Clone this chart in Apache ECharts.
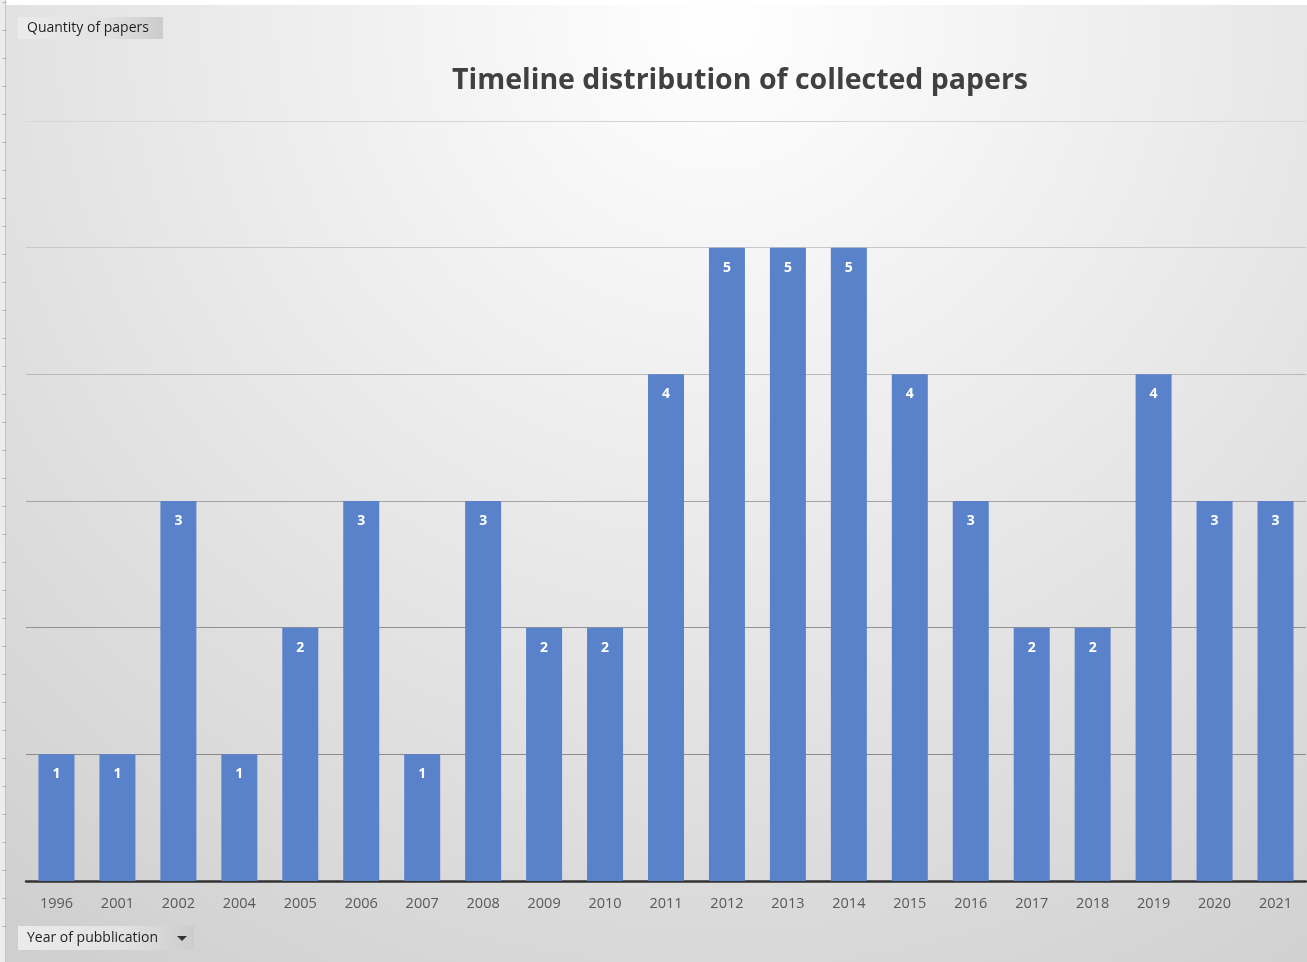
<!DOCTYPE html>
<html>
<head>
<meta charset="utf-8">
<style>
  html, body { margin: 0; padding: 0; background: #ffffff; }
  #chart { width: 1307px; height: 962px; }
</style>
<script src="https://cdn.jsdelivr.net/npm/echarts@6/dist/echarts.min.js"></script>
</head>
<body>
<div id="chart"></div>
<script>
// Publication years and number of papers collected for each
const years = ['1996', '2001', '2002', '2004', '2005', '2006', '2007', '2008', '2009', '2010',
               '2011', '2012', '2013', '2014', '2015', '2016', '2017', '2018', '2019', '2020', '2021'];
const paperCounts = [1, 1, 3, 1, 2, 3, 1, 3, 2, 2, 4, 5, 5, 5, 4, 3, 2, 2, 4, 3, 3];
const valueTicks = [0, 1, 2, 3, 4, 5, 6];

const chart = echarts.init(document.getElementById('chart'), null, { renderer: 'canvas' });

const uiFont = '"Open Sans", "Noto Sans", sans-serif';

// Small pivot field button (Excel style)
function fieldButton(left, top, w, h, text, withArrow) {
  const children = [
    {
      type: 'rect',
      shape: { x: 0, y: 0, width: w, height: h },
      style: {
        fill: new echarts.graphic.LinearGradient(0, 0, 1, 0, [
          { offset: 0, color: '#ebebeb' },
          { offset: 0.6, color: '#e2e2e2' },
          { offset: 1, color: '#cccccc' }
        ])
      }
    },
    {
      type: 'text',
      style: {
        x: 9, y: h / 2, text: text, fill: '#1f1f1f',
        font: '14px ' + uiFont, verticalAlign: 'middle', align: 'left'
      }
    }
  ];
  if (withArrow) {
    children.push({
      type: 'polygon',
      shape: { points: [[w - 17, h / 2 - 2], [w - 7, h / 2 - 2], [w - 12, h / 2 + 3]] },
      style: { fill: '#333333' }
    });
  }
  return { type: 'group', left: left, top: top, children: children };
}

// Sheet ruler ticks along the left edge
const rulerTicks = [];
for (let y = 19; y < 962; y += 28) {
  rulerTicks.push({ type: 'line', shape: { x1: 0, y1: y, x2: 4, y2: y }, style: { stroke: '#b5b5b5', lineWidth: 1 } });
}

const option = {
  animation: false,
  backgroundColor: {
    type: 'radial', x: 0.55, y: 0.02, r: 1.2,
    colorStops: [
      { offset: 0, color: '#ffffff' },
      { offset: 0.55, color: '#e5e5e5' },
      { offset: 1, color: '#cfcfcf' }
    ]
  },
  title: {
    text: 'Timeline distribution of collected papers',
    left: 735, top: 61, textAlign: 'center',
    textStyle: { fontFamily: uiFont, fontWeight: 'bold', fontSize: 28.5, color: '#404040' }
  },
  grid: { left: 26, right: 1, top: 121, bottom: 81, containLabel: false },
  xAxis: {
    type: 'category',
    data: years,
    axisLine: { show: true, lineStyle: { color: '#333333', width: 2.5 } },
    axisTick: { show: false },
    axisLabel: { color: '#595959', fontFamily: uiFont, fontSize: 14.5, margin: 15 }
  },
  yAxis: {
    type: 'value',
    min: valueTicks[0],
    max: valueTicks[valueTicks.length - 1],
    interval: 1,
    axisLine: { show: false },
    axisTick: { show: false },
    axisLabel: { show: false },
    splitLine: {
      show: true,
      lineStyle: {
        width: 1.2,
        color: ['rgba(0,0,0,0)', '#8c8c8c', '#919191', '#a3a3a3', '#b8b8b8', '#c8c8c8', '#d6d6d6']
      }
    }
  },
  series: [{
    type: 'bar',
    data: paperCounts,
    barWidth: 36,
    itemStyle: { color: '#5a82cb' },
    label: {
      show: true,
      position: 'insideTop',
      distance: 13,
      color: '#ffffff',
      fontFamily: uiFont,
      fontWeight: 'bold',
      fontSize: 14
    }
  }],
  graphic: [
    { type: 'rect', left: 0, top: 0, shape: { width: 1307, height: 5 }, style: { fill: '#ffffff' } },
    { type: 'rect', left: 0, top: 0, shape: { width: 5, height: 962 }, style: { fill: '#ececec' } },
    { type: 'line', shape: { x1: 5.5, y1: 0, x2: 5.5, y2: 962 }, style: { stroke: '#c4c4c4', lineWidth: 1 } },
    { type: 'group', left: 0, top: 0, children: rulerTicks },
    fieldButton(18, 17, 145, 22, 'Quantity of papers', false),
    fieldButton(18, 926, 176, 24, 'Year of pubblication', true)
  ]
};

chart.setOption(option);
</script>
</body>
</html>
